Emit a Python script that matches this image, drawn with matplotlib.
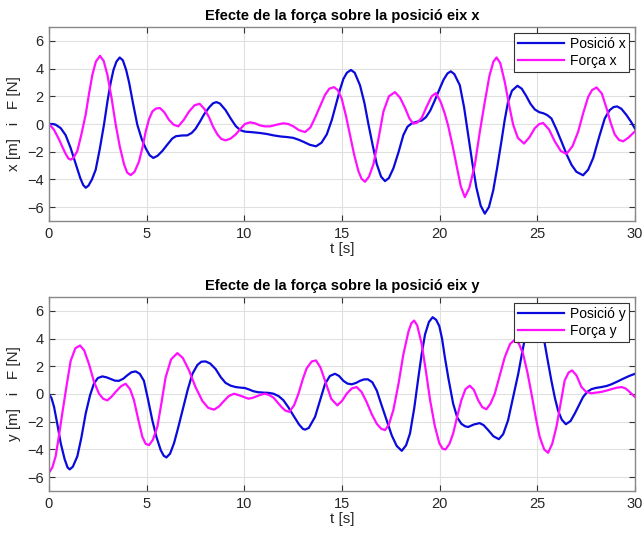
import matplotlib.pyplot as plt
import numpy as np

plt.rcParams['font.family'] = ['Liberation Sans', 'DejaVu Sans']

# (t, valor) llegits de la simulacio
pos_x = np.array([
    (0, 0), (0.2, 0.0), (0.34, -0.05), (0.6, -0.3), (0.85, -0.8), (1.1, -1.7), (1.37, -2.9), (1.6, -3.9),
    (1.75, -4.4), (1.88, -4.6), (2.02, -4.45), (2.2, -4.0), (2.39, -3.3), (2.6, -1.8), (2.82, 0.0), (3.0, 1.7),
    (3.16, 3.0), (3.3, 3.9), (3.45, 4.5), (3.62, 4.8), (3.78, 4.6), (3.95, 3.9), (4.1, 3.0), (4.3, 1.5),
    (4.52, -0.05), (4.75, -1.1), (4.95, -1.75), (5.15, -2.25), (5.34, -2.45), (5.55, -2.3), (5.8, -1.95),
    (6.05, -1.5), (6.31, -1.05), (6.5, -0.88), (6.8, -0.83), (7.08, -0.82), (7.3, -0.65), (7.5, -0.35),
    (7.72, 0.15), (7.94, 0.7), (8.2, 1.2), (8.4, 1.5), (8.57, 1.58), (8.75, 1.48), (9.04, 1.0), (9.3, 0.4),
    (9.56, -0.15), (9.8, -0.45), (10.03, -0.55), (10.46, -0.6), (10.8, -0.65), (11.15, -0.72), (11.49, -0.82),
    (11.85, -0.9), (12.17, -0.94), (12.5, -1.0), (12.77, -1.13), (13.05, -1.3), (13.35, -1.5), (13.67, -1.61),
    (13.95, -1.35), (14.22, -0.75), (14.48, 0.3), (14.73, 1.6), (14.9, 2.5), (15.07, 3.25), (15.25, 3.7),
    (15.46, 3.9), (15.65, 3.7), (15.92, 2.8), (16.15, 1.5), (16.35, 0.0), (16.58, -1.6), (16.78, -2.9),
    (17.0, -3.8), (17.2, -4.12), (17.4, -3.9), (17.63, -3.2), (17.9, -2.0), (18.14, -0.8), (18.35, -0.2),
    (18.57, 0.05), (18.8, 0.15), (19.08, 0.25), (19.3, 0.5), (19.51, 0.95), (19.75, 1.7), (20.0, 2.55),
    (20.2, 3.2), (20.4, 3.65), (20.57, 3.8), (20.75, 3.6), (21.03, 2.8), (21.25, 1.2), (21.46, -0.8),
    (21.67, -2.8), (21.88, -4.6), (22.1, -5.9), (22.31, -6.47), (22.52, -6.0), (22.74, -4.8), (22.95, -3.1),
    (23.16, -1.25), (23.33, 0.3), (23.5, 1.6), (23.7, 2.4), (23.98, 2.76), (24.2, 2.55), (24.44, 2.0),
    (24.65, 1.45), (24.87, 1.05), (25.1, 0.85), (25.3, 0.78), (25.5, 0.65), (25.72, 0.4), (25.95, -0.3),
    (26.23, -1.25), (26.5, -2.2), (26.75, -2.95), (27.0, -3.45), (27.34, -3.7), (27.6, -3.3), (27.86, -2.45),
    (28.15, -1.0), (28.45, 0.4), (28.7, 1.0), (28.9, 1.22), (29.08, 1.27), (29.3, 1.1), (29.56, 0.65),
    (29.8, 0.15), (30.0, -0.34)])

forca_x = np.array([
    (0, 0), (0.25, -0.4), (0.51, -1.1), (0.7, -1.7), (0.85, -2.15), (1.0, -2.5), (1.11, -2.57), (1.25, -2.45),
    (1.45, -1.95), (1.65, -0.8), (1.88, 0.7), (2.05, 2.2), (2.22, 3.55), (2.4, 4.5), (2.61, 4.92), (2.8, 4.55),
    (2.99, 3.55), (3.2, 1.9), (3.41, 0.0), (3.62, -1.6), (3.84, -2.9), (4.0, -3.5), (4.18, -3.69), (4.38, -3.45),
    (4.61, -2.7), (4.8, -1.6), (4.95, -0.55), (5.12, 0.35), (5.29, 0.9), (5.48, 1.12), (5.68, 1.15), (5.9, 0.85),
    (6.14, 0.3), (6.38, -0.05), (6.62, -0.17), (6.9, 0.3), (7.17, 0.9), (7.45, 1.35), (7.71, 1.46), (7.95, 1.1),
    (8.19, 0.5), (8.4, -0.2), (8.62, -0.75), (8.82, -1.08), (9.04, -1.18), (9.3, -1.05), (9.56, -0.75),
    (9.8, -0.35), (10.03, 0.0), (10.29, 0.12), (10.55, 0.05), (10.8, -0.1), (11.05, -0.17), (11.32, -0.17),
    (11.65, -0.05), (12.0, 0.05), (12.25, 0.0), (12.51, -0.17), (12.8, -0.45), (13.11, -0.58), (13.38, -0.25),
    (13.62, 0.45), (13.88, 1.3), (14.13, 2.1), (14.35, 2.55), (14.59, 2.66), (14.78, 2.45), (14.98, 1.85),
    (15.2, 0.6), (15.41, -0.8), (15.62, -2.2), (15.84, -3.4), (16.0, -3.95), (16.18, -4.17), (16.38, -3.8),
    (16.61, -2.9), (16.85, -1.2), (17.12, 0.9), (17.4, 2.0), (17.71, 2.3), (17.97, 1.9), (18.23, 1.15),
    (18.45, 0.4), (18.65, 0.02), (18.85, 0.1), (19.08, 0.45), (19.35, 1.3), (19.59, 2.0), (19.81, 2.23),
    (20.05, 1.6), (20.25, 0.8), (20.43, -0.1), (20.65, -1.5), (20.86, -2.95), (21.08, -4.5), (21.29, -5.28),
    (21.52, -4.6), (21.8, -2.95), (22.05, -0.6), (22.31, 1.6), (22.55, 3.5), (22.75, 4.5), (22.91, 4.8),
    (23.1, 4.4), (23.33, 3.05), (23.55, 1.4), (23.76, -0.05), (24.0, -1.0), (24.32, -1.41), (24.6, -0.95),
    (24.87, -0.3), (25.1, 0.0), (25.3, 0.07), (25.6, -0.4), (25.89, -1.25), (26.2, -1.95), (26.49, -2.16),
    (26.8, -1.6), (27.09, -0.55), (27.35, 0.8), (27.6, 1.95), (27.8, 2.45), (28.03, 2.64), (28.3, 2.2),
    (28.54, 1.15), (28.75, 0.1), (28.96, -0.75), (29.18, -1.15), (29.39, -1.25), (29.65, -1.0), (30.0, -0.53)])

pos_y = np.array([
    (0, 0), (0.13, -0.3), (0.26, -0.94), (0.43, -2.2), (0.6, -3.55), (0.8, -4.7), (0.95, -5.3), (1.06, -5.44),
    (1.22, -5.25), (1.45, -4.5), (1.65, -3.2), (1.88, -1.4), (2.1, -0.1), (2.3, 0.75), (2.5, 1.15), (2.73, 1.27),
    (2.95, 1.2), (3.16, 1.08), (3.38, 0.96), (3.58, 0.95), (3.8, 1.1), (4.01, 1.35), (4.22, 1.57), (4.44, 1.63),
    (4.65, 1.45), (4.86, 0.95), (5.07, -0.4), (5.29, -1.9), (5.5, -3.1), (5.72, -4.05), (5.87, -4.45),
    (6.01, -4.58), (6.2, -4.3), (6.4, -3.55), (6.6, -2.5), (6.83, -1.2), (7.1, 0.3), (7.34, 1.45), (7.6, 2.1),
    (7.8, 2.33), (8.02, 2.35), (8.25, 2.2), (8.53, 1.8), (8.8, 1.2), (9.04, 0.8), (9.3, 0.6), (9.56, 0.5),
    (9.8, 0.46), (10.03, 0.43), (10.25, 0.32), (10.46, 0.2), (10.7, 0.13), (10.97, 0.1), (11.25, 0.08),
    (11.49, 0.02), (11.75, -0.15), (12.0, -0.45), (12.25, -0.95), (12.51, -1.55), (12.8, -2.2), (13.0, -2.52),
    (13.11, -2.57), (13.3, -2.45), (13.62, -1.65), (13.88, -0.45), (14.13, 0.72), (14.38, 1.3), (14.64, 1.46),
    (14.85, 1.3), (15.07, 0.95), (15.28, 0.75), (15.5, 0.7), (15.72, 0.8), (15.92, 0.95), (16.12, 1.05),
    (16.32, 1.06), (16.55, 0.85), (16.78, 0.25), (17.0, -0.7), (17.29, -1.9), (17.55, -3.0), (17.8, -3.75),
    (18.06, -4.1), (18.28, -3.7), (18.48, -2.85), (18.7, -1.0), (18.91, 1.2), (19.08, 2.9), (19.25, 4.3),
    (19.45, 5.2), (19.64, 5.54), (19.82, 5.35), (19.98, 4.9), (20.12, 4.0), (20.26, 2.7), (20.45, 1.1),
    (20.69, -0.7), (20.9, -1.7), (21.11, -2.15), (21.3, -2.33), (21.46, -2.38), (21.75, -2.2), (22.05, -2.1),
    (22.25, -2.25), (22.48, -2.6), (22.75, -3.05), (23.03, -3.26), (23.25, -2.9), (23.5, -1.9), (23.75, -0.3),
    (24.02, 1.45), (24.25, 3.2), (24.44, 4.55), (24.65, 5.3), (24.9, 5.5), (25.15, 5.0), (25.35, 3.86),
    (25.52, 2.5), (25.72, 0.95), (25.9, -0.3), (26.06, -1.2), (26.25, -1.85), (26.46, -2.18), (26.7, -1.95),
    (26.92, -1.4), (27.15, -0.75), (27.34, -0.22), (27.55, 0.15), (27.77, 0.35), (28.0, 0.44), (28.28, 0.5),
    (28.55, 0.58), (28.79, 0.7), (29.1, 0.9), (29.39, 1.1), (29.7, 1.3), (30.0, 1.46)])

forca_y = np.array([
    (0, -5.68), (0.17, -5.3), (0.34, -4.5), (0.5, -3.1), (0.68, -1.4), (0.9, 0.6), (1.11, 2.4), (1.35, 3.3),
    (1.59, 3.5), (1.8, 3.15), (2.05, 2.15), (2.3, 0.9), (2.56, 0.02), (2.78, -0.35), (2.99, -0.46), (3.2, -0.2),
    (3.41, 0.15), (3.68, 0.55), (3.92, 0.74), (4.15, 0.35), (4.35, -0.45), (4.58, -1.9), (4.78, -3.1),
    (4.95, -3.6), (5.12, -3.69), (5.32, -3.3), (5.55, -2.35), (5.75, -0.7), (5.97, 1.2), (6.25, 2.5),
    (6.57, 2.95), (6.85, 2.6), (7.17, 1.7), (7.5, 0.5), (7.85, -0.5), (8.15, -1.0), (8.45, -1.13), (8.7, -0.9),
    (8.96, -0.5), (9.2, -0.15), (9.47, 0.02), (9.75, -0.1), (10.03, -0.25), (10.21, -0.34), (10.42, -0.28),
    (10.63, -0.17), (10.85, -0.05), (11.06, 0.02), (11.28, -0.08), (11.49, -0.26), (11.7, -0.6), (11.91, -0.95),
    (12.1, -1.2), (12.31, -1.29), (12.55, -0.8), (12.77, 0.02), (13.0, 1.1), (13.19, 1.85), (13.45, 2.35),
    (13.67, 2.42), (13.9, 1.9), (14.13, 0.95), (14.45, -0.35), (14.76, -0.82), (15.0, -0.5), (15.24, 0.02),
    (15.5, 0.4), (15.75, 0.5), (16.0, 0.15), (16.26, -0.58), (16.52, -1.45), (16.78, -2.15), (17.0, -2.5),
    (17.2, -2.61), (17.4, -2.2), (17.63, -1.15), (17.9, 0.8), (18.14, 2.85), (18.4, 4.5), (18.55, 5.1),
    (18.69, 5.3), (18.85, 4.95), (19.08, 3.6), (19.3, 1.6), (19.51, -0.45), (19.75, -2.3), (19.98, -3.55),
    (20.15, -3.95), (20.3, -4.0), (20.5, -3.6), (20.69, -2.85), (20.9, -1.6), (21.11, -0.45), (21.32, 0.35),
    (21.54, 0.6), (21.75, 0.3), (21.97, -0.45), (22.18, -0.95), (22.39, -1.1), (22.6, -0.7), (22.82, 0.02),
    (23.05, 1.2), (23.33, 2.65), (23.6, 3.6), (23.84, 3.91), (24.05, 3.65), (24.27, 2.9), (24.5, 1.5),
    (24.7, 0.02), (24.92, -1.7), (25.12, -3.1), (25.35, -4.0), (25.55, -4.24), (25.76, -3.6), (25.98, -2.35),
    (26.2, -0.6), (26.4, 0.98), (26.6, 1.55), (26.78, 1.7), (27.0, 1.35), (27.26, 0.5), (27.5, 0.15),
    (27.77, 0.05), (28.0, 0.1), (28.28, 0.15), (28.55, 0.25), (28.79, 0.35), (29.05, 0.45), (29.31, 0.5),
    (29.52, 0.4), (29.73, 0.14), (30.0, -0.22)])

fig = plt.figure(figsize=(6.43, 5.33), dpi=100)
ax1 = fig.add_axes([0.0762, 0.5854, 0.9114, 0.3639])
ax2 = fig.add_axes([0.0762, 0.0788, 0.9114, 0.364])

panels = [(ax1, pos_x, forca_x, 'x'), (ax2, pos_y, forca_y, 'y')]
for ax, p, f, eix in panels:
    ax.plot(p[:, 0], p[:, 1], color='#0a0adc', lw=1.6, label='Posició ' + eix)
    ax.plot(f[:, 0], f[:, 1], color='#ff10ff', lw=1.6, label='Força ' + eix)
    ax.set_xlim(0, 30)
    ax.set_ylim(-7, 7)
    ax.set_xticks(np.arange(0, 31, 5))
    ax.set_yticks(np.arange(-6, 7, 2))
    ax.grid(True, color='#e0e0e0', lw=0.8)
    ax.set_axisbelow(True)
    ax.tick_params(direction='in', top=True, right=True, labelsize=10.5, length=4,
                   color='#333333', labelcolor='#262626', pad=4)
    for s in ax.spines.values():
        s.set_color('#888888')
        s.set_linewidth(1.0)
    ax.set_xlabel('t [s]', fontsize=11, color='#262626', labelpad=1)
    ax.set_ylabel(eix + ' [m]   i   F [N]', fontsize=11, color='#262626', labelpad=4)
    ax.set_title('Efecte de la força sobre la posició eix ' + eix, fontsize=10.5, fontweight='bold', pad=5)
    leg = ax.legend(loc='upper right', fontsize=10, fancybox=False, framealpha=1, edgecolor='#333333',
                    handlelength=3.3, borderaxespad=0.4, labelspacing=0.25, borderpad=0.3, handletextpad=0.4)
    leg.get_frame().set_linewidth(0.8)

fig.savefig('out.png', dpi=100)
